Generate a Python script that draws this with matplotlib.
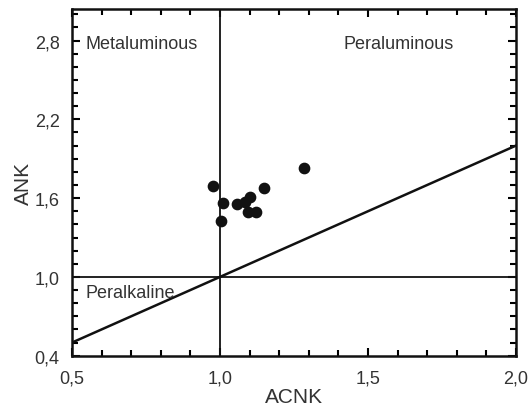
import matplotlib
matplotlib.use("Agg")
import matplotlib.pyplot as plt
from matplotlib.ticker import MultipleLocator, FixedLocator, FuncFormatter

plt.rcParams['font.family'] = ['Liberation Sans', 'DejaVu Sans']

acnk = [0.976, 1.010, 1.003, 1.059, 1.084, 1.103, 1.094, 1.122, 1.149, 1.283]
ank = [1.695, 1.563, 1.429, 1.556, 1.573, 1.607, 1.493, 1.493, 1.678, 1.830]

x_ticks = [0.5, 1.0, 1.5, 2.0]
y_ticks = [0.4, 1.0, 1.6, 2.2, 2.8]

fig = plt.figure(figsize=(5.32, 4.10), dpi=100)
ax = fig.add_axes([72/532, 1-356.7/410, (516-72)/532, (356.7-10)/410])

ax.set_xlim(0.5, 2.0)
ax.set_ylim(0.4, 3.04)

tc = '#333333'
# boundary lines
ax.axvline(1.0, color='#111111', lw=1.3)
ax.axhline(1.0, color='#111111', lw=1.3)
ax.plot([0.5, 2.0], [0.5, 2.0], color='#111111', lw=1.8)

ax.scatter(acnk, ank, s=55, color='#111111', zorder=3)

ax.text(0.547, 2.78, 'Metaluminous', fontsize=13, color=tc, va='center', ha='left')
ax.text(1.416, 2.78, 'Peraluminous', fontsize=13, color=tc, va='center', ha='left')
ax.text(0.547, 0.88, 'Peralkaline', fontsize=13, color=tc, va='center', ha='left')

ax.xaxis.set_major_locator(FixedLocator(x_ticks))
ax.yaxis.set_major_locator(FixedLocator(y_ticks))
ax.xaxis.set_minor_locator(MultipleLocator(0.1))
ax.yaxis.set_minor_locator(MultipleLocator(0.1))
fmt = FuncFormatter(lambda v, p: f"{v:.1f}".replace('.', ','))
ax.xaxis.set_major_formatter(fmt)
ax.yaxis.set_major_formatter(fmt)
ax.tick_params(which='both', direction='in', top=True, right=True, width=1.5, labelsize=13, labelcolor=tc)
ax.tick_params(which='major', length=6)
ax.tick_params(which='minor', length=4)
ax.tick_params(axis='x', pad=10)
ax.tick_params(axis='y', pad=9)
for s in ax.spines.values():
    s.set_linewidth(1.8)
    s.set_color('#111111')

ax.set_xlabel('ACNK', fontsize=15, color=tc, labelpad=0)
ax.set_ylabel('ANK', fontsize=15, color=tc, labelpad=1)

fig.savefig('out.png', dpi=100)
